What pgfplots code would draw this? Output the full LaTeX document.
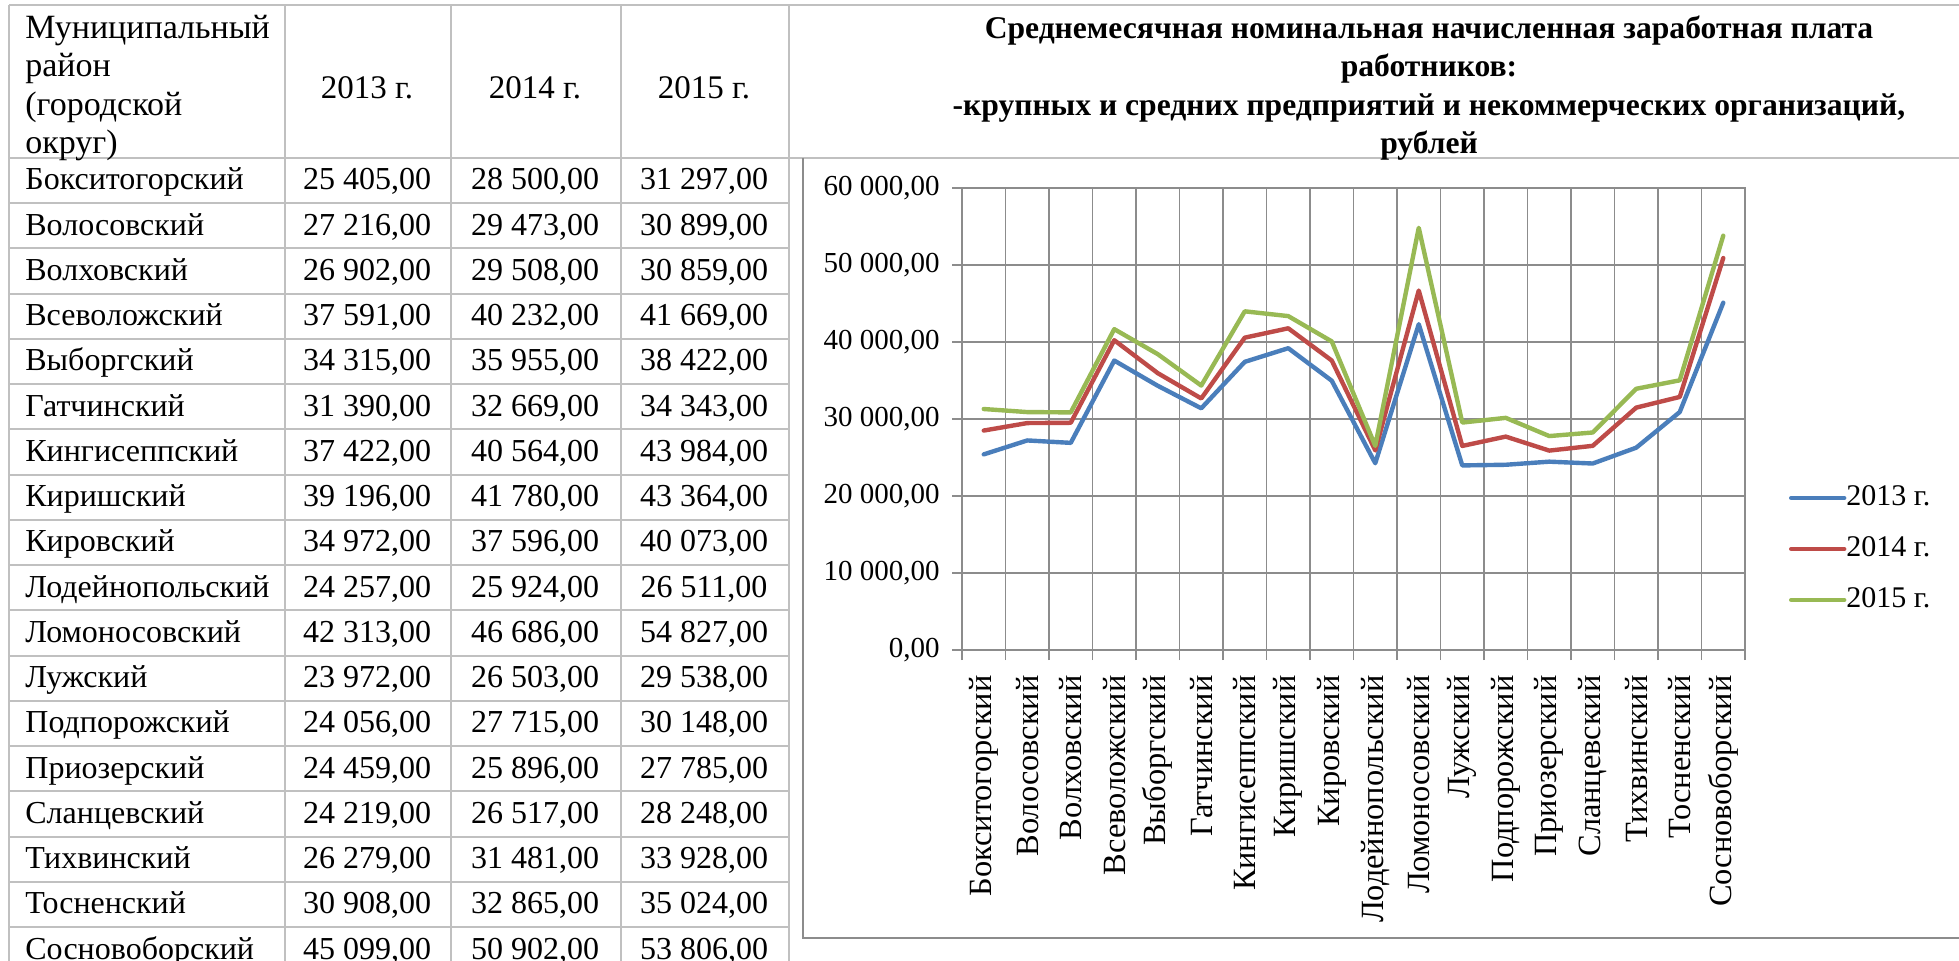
\documentclass[border=0pt]{standalone}
\usepackage{fontspec}
\setmainfont{Liberation Serif}
\usepackage{pgfplots}
\usepackage{pgfplotstable}
\pgfplotsset{compat=1.18}
\definecolor{c13}{HTML}{4A7EBB}
\definecolor{c14}{HTML}{BE4B48}
\definecolor{c15}{HTML}{98B954}
\definecolor{tblgray}{HTML}{C0C0C0}
\definecolor{gridgray}{HTML}{8C8C8C}
\definecolor{framegray}{HTML}{8C8C8C}

\pgfplotstableread{
name y2013 y2014 y2015
Бокситогорский 25405 28500 31297
Волосовский 27216 29473 30899
Волховский 26902 29508 30859
Всеволожский 37591 40232 41669
Выборгский 34315 35955 38422
Гатчинский 31390 32669 34343
Кингисеппский 37422 40564 43984
Киришский 39196 41780 43364
Кировский 34972 37596 40073
Лодейнопольский 24257 25924 26511
Ломоносовский 42313 46686 54827
Лужский 23972 26503 29538
Подпорожский 24056 27715 30148
Приозерский 24459 25896 27785
Сланцевский 24219 26517 28248
Тихвинский 26279 31481 33928
Тосненский 30908 32865 35024
Сосновоборский 45099 50902 53806
}\data

\newcommand\numfmt[1]{\pgfmathprintnumber[fixed,zerofill,precision=2,use comma,1000 sep={\ },assume math mode=true]{#1}}
\newcommand\tblfont{\fontsize{16}{19}\selectfont}

\begin{document}
\begin{tikzpicture}
\begin{scope}[x=0.5pt,y=-0.5pt]
\useasboundingbox (0,0) rectangle (1959,961);
% table grid
\draw[tblgray, line width=1pt] (9,5) -- (1959,5);
\draw[tblgray, line width=1pt] (9,158) -- (1959,158);
\foreach \k in {1,...,17} \draw[tblgray,line width=1pt] (9,{158+45.24*\k}) -- (789,{158+45.24*\k});
\foreach \x in {9,285,451,621,789} \draw[tblgray,line width=1pt] (\x,5) -- (\x,961);
% header
\node[anchor=west, align=left, inner sep=0pt, font=\fontsize{17}{19.2}\selectfont] at (25,88) {Муниципальный\\район\\(городской\\округ)};
\node[font=\fontsize{16.5}{19}\selectfont] at (367,88) {2013 г.};
\node[font=\fontsize{16.5}{19}\selectfont] at (535,88) {2014 г.};
\node[font=\fontsize{16.5}{19}\selectfont] at (704,88) {2015 г.};
% rows
\foreach \r in {0,...,17}{
  \pgfplotstablegetelem{\r}{name}\of\data
  \node[anchor=base west, inner sep=0pt, font=\tblfont] at (25,{190+45.24*\r}) {\pgfplotsretval};
  \pgfplotstablegetelem{\r}{y2013}\of\data
  \node[anchor=base, inner sep=0pt, font=\tblfont] at (367,{190+45.24*\r}) {\numfmt{\pgfplotsretval}};
  \pgfplotstablegetelem{\r}{y2014}\of\data
  \node[anchor=base, inner sep=0pt, font=\tblfont] at (535,{190+45.24*\r}) {\numfmt{\pgfplotsretval}};
  \pgfplotstablegetelem{\r}{y2015}\of\data
  \node[anchor=base, inner sep=0pt, font=\tblfont] at (704,{190+45.24*\r}) {\numfmt{\pgfplotsretval}};
}
% title
\node[align=center, inner sep=0pt, font=\bfseries\fontsize{15.8}{19.2}\selectfont] at (1429,88)
 {Среднемесячная номинальная начисленная заработная плата\\работников:\\-крупных и средних предприятий и некоммерческих организаций,\\рублей};
% chart frame
\draw[framegray, line width=1.3pt] (803,158) -- (803,938) -- (1975,938);
\end{scope}

\begin{axis}[
  at={(481pt,-325pt)}, anchor=south west,
  scale only axis, width=391.5pt, height=231pt,
  xmin=-0.5, xmax=17.5, ymin=0, ymax=60000,
  xtick={0,...,17},
  xticklabels from table={\data}{name},
  minor xtick={-0.5,0.5,...,17.5},
  ytick={0,10000,...,60000},
  minor ytick={0,10000,...,60000},
  major tick length=0pt,
  minor tick length=5pt,
  tick align=outside,
  tick pos=left,
  xminorgrids=true, yminorgrids=true,
  minor grid style={gridgray, line width=0.7pt},
  minor tick style={gridgray, line width=0.7pt},
  axis line style={gridgray, line width=0.7pt},
  scaled y ticks=false,
  yticklabel={\numfmt{\tick}},
  yticklabel style={inner sep=0pt, font=\fontsize{14.5}{16}\selectfont},
  yticklabel shift=11pt,
  xticklabel style={rotate=90, anchor=east, inner sep=0pt, font=\fontsize{16.2}{18}\selectfont},
  xticklabel shift=12.5pt,
  legend style={draw=none, fill=none, at={(axis description cs:1.048,0.2186)}, anchor=west,
    font=\fontsize{15}{17}\selectfont, row sep=12pt,
    nodes={inner sep=0pt, text height=10.5pt, text depth=3pt}},
  legend cell align=left,
  legend image code/.code={\draw[#1, line width=2.2pt] (0pt,0pt) -- (26.5pt,0pt);},
]
\addplot[c13, line width=2.2pt, line join=round, line cap=round] table[x expr=\coordindex, y=y2013]{\data};
\addlegendentry{2013 г.}
\addplot[c14, line width=2.2pt, line join=round, line cap=round] table[x expr=\coordindex, y=y2014]{\data};
\addlegendentry{2014 г.}
\addplot[c15, line width=2.2pt, line join=round, line cap=round] table[x expr=\coordindex, y=y2015]{\data};
\addlegendentry{2015 г.}
\end{axis}
\end{tikzpicture}
\end{document}
